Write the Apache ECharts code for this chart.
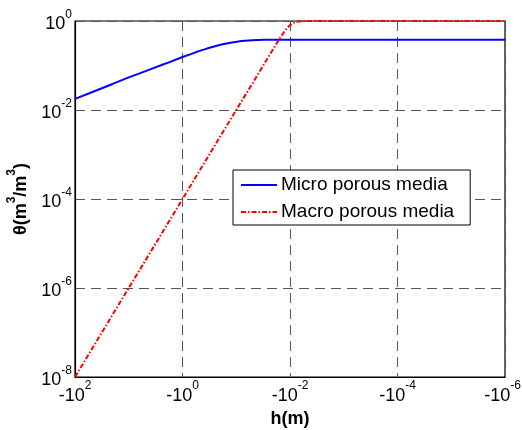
<!DOCTYPE html>
<html><head><meta charset="utf-8">
<script src="https://cdn.jsdelivr.net/npm/echarts@6/dist/echarts.min.js"></script>
<style>html,body{margin:0;padding:0;background:#fff}#c{width:522px;height:430px}</style>
</head><body><div id="c"></div>
<script>
// |h| in metres (axis shows -h, reversed log scale)
var microH = [100, 50, 20, 10, 5, 2, 1, 0.7, 0.5, 0.35, 0.25, 0.18, 0.12, 0.08, 0.05, 0.03, 0.02, 0.01, 0.001, 0.0001, 0.00001, 0.000001];
var microTheta = [0.0178, 0.0248, 0.0385, 0.054, 0.074, 0.112, 0.155, 0.18, 0.21, 0.24, 0.27, 0.3, 0.33, 0.355, 0.37, 0.377, 0.379, 0.38, 0.38, 0.38, 0.38, 0.38];
var macroH = [100, 10, 1, 0.1, 0.05, 0.03, 0.02, 0.015, 0.012, 0.01, 0.0085, 0.007, 0.005, 0.004, 0.003, 0.001, 0.0001, 0.00001, 0.000001];
var macroTheta = [1e-8, 1e-6, 1e-4, 1e-2, 0.0396, 0.11, 0.248, 0.435, 0.64, 0.81, 0.915, 0.973, 0.997, 1, 1, 1, 1, 1, 1];
var xTickExp = [2, 0, -2, -4, -6];
var yTickExp = [0, -2, -4, -6, -8];
var seriesNames = ['Micro porous media', 'Macro porous media'];

function pairs(h, t){ return h.map(function(v,i){ return [v, t[i]]; }); }
var FONT = 'Liberation Sans, Arial, sans-serif';
var rich = {
  b: {fontSize: 18, fontFamily: FONT, color: '#000', padding: [7,0,0,0]},
  s: {fontSize: 12, fontFamily: FONT, color: '#000', verticalAlign: 'top', padding: [0,0,7,0]},
  p: {width: 5}
};
var gridLine = {show: true, lineStyle: {color: '#555', type: [10, 6], width: 1}};
var chart = echarts.init(document.getElementById('c'));
chart.setOption({
  animation: false,
  backgroundColor: '#fff',
  grid: {left: 75, right: 17, top: 21, bottom: 53, show: true, borderColor: '#000', borderWidth: 1.2, backgroundColor: 'transparent',
         containLabel: false, outerBoundsMode: 'none'},
  legend: {
    orient: 'vertical', left: 233, top: 170, data: seriesNames,
    backgroundColor: '#fff', borderColor: '#000', borderWidth: 1, borderRadius: 0,
    padding: [4, 16, 2, 7], itemGap: 5, itemWidth: 36, itemHeight: 10,
    itemStyle: {opacity: 0},
    textStyle: {fontSize: 19, fontFamily: FONT, color: '#000', lineHeight: 22, padding: [0, 0, 0, -1]}
  },
  xAxis: {
    type: 'log', logBase: 10, min: 1e-6, max: 100, inverse: true, interval: 2,
    name: 'h(m)', nameLocation: 'middle', nameGap: 30,
    nameTextStyle: {fontSize: 18, fontWeight: 'bold', fontFamily: FONT, color: '#000'},
    axisLine: {show: true, lineStyle: {color: '#000', width: 1.2}},
    axisTick: {show: false},
    minorTick: {show: false},
    splitLine: gridLine,
    axisLabel: {
      margin: 3,
      formatter: function(v){
        var e = Math.round(Math.log10(v));
        if (xTickExp.indexOf(e) < 0) return '';
        var s = '{b|-10}{s|' + e + '}';
        if (e === xTickExp[xTickExp.length - 1]) s += '{p|}';
        return s;
      },
      rich: rich
    }
  },
  yAxis: {
    type: 'log', logBase: 10, min: 1e-8, max: 1, interval: 2,
    name: '{t|θ(m}{u|3}{t|/m}{u|3}{t|)}', nameLocation: 'middle', nameGap: 40, nameRotate: 90,
    nameTextStyle: {
      rich: {
        t: {fontSize: 18, fontWeight: 'bold', fontFamily: FONT, color: '#000', padding: [7,0,0,0]},
        u: {fontSize: 12, fontWeight: 'bold', fontFamily: FONT, color: '#000', verticalAlign: 'top', padding: [0,0,7,0]}
      }
    },
    axisLine: {show: true, lineStyle: {color: '#000', width: 1.2}},
    axisTick: {show: false},
    minorTick: {show: false},
    splitLine: gridLine,
    axisLabel: {
      margin: 3,
      formatter: function(v){
        var e = Math.round(Math.log10(v));
        if (yTickExp.indexOf(e) < 0) return '';
        return '{b|10}{s|' + e + '}';
      },
      rich: rich
    }
  },
  series: [
    {name: seriesNames[0], type: 'line', data: pairs(microH, microTheta), smooth: false, showSymbol: false, symbol: 'none',
     lineStyle: {color: '#0000ff', width: 2}, itemStyle: {color: '#0000ff'}, clip: false, z: 3},
    {name: seriesNames[1], type: 'line', data: pairs(macroH, macroTheta), smooth: false, showSymbol: false, symbol: 'none',
     lineStyle: {color: '#ff0000', width: 2, type: [5, 2, 1.5, 2]}, itemStyle: {color: '#ff0000'}, clip: false, z: 4}
  ]
});
</script></body></html>
